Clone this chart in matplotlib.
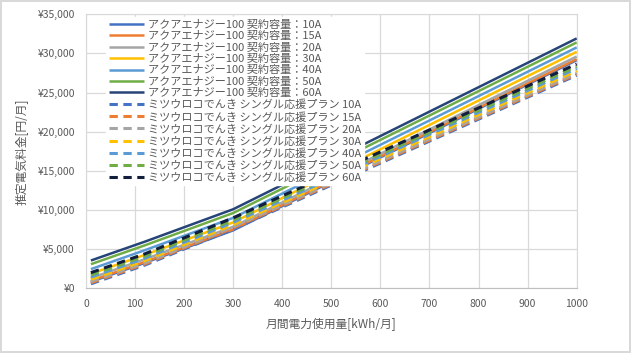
import matplotlib
matplotlib.use('Agg')
import matplotlib.pyplot as plt
from matplotlib.ticker import FuncFormatter, MultipleLocator

plt.rcParams['font.family'] = ['Noto Sans CJK JP', 'DejaVu Sans']
plt.rcParams['lines.scale_dashes'] = False

# usage points [kWh/month]
kwh = [10, 120, 300, 1000]
amps = ['10A', '15A', '20A', '30A', '40A', '50A', '60A']

# アクアエナジー100 (solid)
aqua = [
    [830, 3250, 7400, 29140],
    [950, 3370, 7530, 29270],
    [1300, 3720, 7860, 29610],
    [1850, 4270, 8420, 30210],
    [2450, 4870, 9000, 30770],
    [3080, 5490, 9620, 31410],
    [3550, 5960, 10100, 31920],
]
# ミツウロコでんき シングル応援プラン (dashed)
mitsu = [
    [570, 2970, 7570, 27220],
    [710, 3110, 7710, 27360],
    [860, 3260, 7860, 27510],
    [1140, 3540, 8140, 27790],
    [1430, 3830, 8430, 28080],
    [1710, 4110, 8710, 28360],
    [2000, 4400, 9000, 28650],
]

colors = ['#4472C4', '#ED7D31', '#A5A5A5', '#FFC000', '#5B9BD5', '#70AD47', '#264478']
dash_colors = colors[:-1] + ['#111E3C']
txt = '#595959'

fig = plt.figure(figsize=(6.31, 3.53), dpi=100, edgecolor='#d9d9d9', linewidth=1.5)
ax = fig.add_axes([86/631, 1-288.3/353, (576.7-86)/631, (288.3-14.3)/353])

for i, a in enumerate(amps):
    ax.plot(kwh, aqua[i], color=colors[i], lw=1.8, solid_capstyle='butt',
            label='アクアエナジー100 契約容量：' + a)
for i, a in enumerate(amps):
    ax.plot(kwh, mitsu[i], color=dash_colors[i], lw=2.2, linestyle=(0, (6, 4)),
            dash_capstyle='butt', label='ミツウロコでんき シングル応援プラン ' + a)

ax.set_xlim(0, 1000)
ax.set_ylim(0, 35000)
ax.xaxis.set_major_locator(MultipleLocator(100))
ax.yaxis.set_major_locator(MultipleLocator(5000))
ax.yaxis.set_major_formatter(FuncFormatter(lambda v, p: '¥{:,.0f}'.format(v)))
ax.grid(color='#d9d9d9', lw=0.9)
ax.set_axisbelow(True)
for s in ax.spines.values():
    s.set_color('#d9d9d9')
ax.spines['bottom'].set_color('#bfbfbf')
ax.tick_params(length=0, labelsize=7.5, colors=txt, pad=8)
ax.set_xlabel('月間電力使用量[kWh/月]', fontsize=8.5, color=txt, labelpad=6)
ax.set_ylabel('推定電気料金[円/月]', fontsize=8.5, color=txt, labelpad=6)

leg = ax.legend(loc='upper left', bbox_to_anchor=(106/631, 1-17/353),
                bbox_transform=fig.transFigure, fontsize=8, frameon=True,
                fancybox=False, borderaxespad=0, borderpad=0.25,
                labelspacing=0.12, handlelength=3.2, handletextpad=0.3)
leg.get_frame().set_facecolor('white')
leg.get_frame().set_edgecolor('white')
leg.get_frame().set_alpha(1)
for t in leg.get_texts():
    t.set_color(txt)

fig.savefig('out.png', dpi=100, edgecolor=fig.get_edgecolor())
